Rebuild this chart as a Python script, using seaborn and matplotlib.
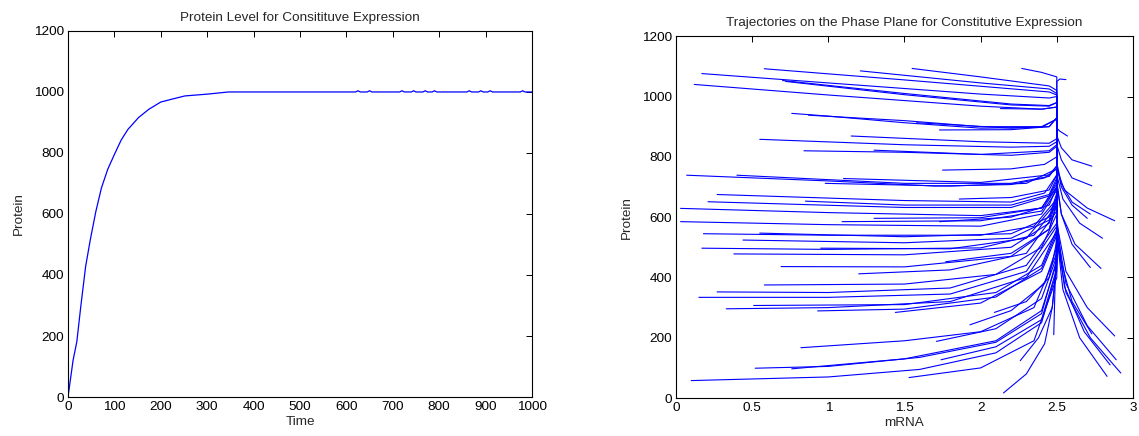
import numpy as np
import pandas as pd
import seaborn as sns
import matplotlib
matplotlib.use('Agg')
import matplotlib.pyplot as plt

# Left panel: protein level over time
time = [0, 11, 19, 27.5, 38, 48, 60, 72, 85.5, 100, 114.5, 129, 152, 174, 200,
        223, 252, 301, 346, 400, 500, 600, 620, 625, 630, 645, 650, 655, 715,
        720, 725, 740, 745, 750, 765, 770, 775, 785, 790, 795, 860, 865, 870,
        885, 890, 895, 905, 910, 915, 975, 980, 985, 1000]
protein = [0, 121, 181, 296, 428, 515, 608, 685, 746, 795, 842, 877, 916, 943,
           967, 976, 987, 993, 1000, 1000, 1000, 1000, 1000, 1004, 1000, 1000,
           1004, 1000, 1000, 1004, 1000, 1000, 1004, 1000, 1000, 1004, 1000,
           1000, 1004, 1000, 1000, 1004, 1000, 1000, 1004, 1000, 1000, 1004,
           1000, 1000, 1004, 1000, 1000]

# Right panel: phase plane trajectories (mRNA, protein), all head to the steady state
EQ_MRNA, EQ_PROTEIN = 2.5, 1000

upper_mrna = [
    [0.12, 1.0, 2.0, 2.4, 2.5],
    [0.17, 1.0, 2.0, 2.45, 2.5],
    [0.58, 1.5, 2.45, 2.5],
    [0.70, 1.5, 2.2, 2.45, 2.5],
    [0.72, 1.5, 2.2, 2.45, 2.5],
    [1.21, 2.0, 2.45, 2.5],
    [1.55, 2.0, 2.45, 2.5],
    [2.27, 2.4, 2.5, 2.5],
    [2.56, 2.52, 2.5],
    [2.13, 2.4, 2.5],
    [0.76, 1.0, 1.5, 2.0, 2.4, 2.5],
    [0.87, 1.5, 2.0, 2.4, 2.5],
    [1.73, 2.2, 2.45, 2.5],
    [1.58, 2.2, 2.45, 2.5],
]
upper_protein = [
    [1040, 1005, 968, 958, 965],
    [1076, 1045, 1008, 995, 1000],
    [1092, 1055, 1015, 1005],
    [1053, 1010, 975, 970, 980],
    [1050, 1006, 972, 968, 980],
    [1085, 1045, 1025, 1010],
    [1093, 1065, 1035, 1020],
    [1093, 1080, 1065, 1062],
    [1056, 1058, 1050],
    [960, 958, 965],
    [944, 935, 913, 895, 898, 925],
    [938, 920, 900, 900, 925],
    [889, 890, 900, 930],
    [913, 895, 900, 930],
]

middle_mrna = [
    [0.55, 1.5, 2.2, 2.45, 2.5],
    [1.15, 2.0, 2.45, 2.5],
    [0.84, 1.5, 2.2, 2.45, 2.5],
    [1.30, 2.0, 2.45, 2.5],
    [1.75, 2.2, 2.42, 2.5],
    [0.07, 1.0, 1.7, 2.2, 2.42, 2.5],
    [0.40, 1.5, 2.2, 2.45, 2.5],
    [1.10, 2.0, 2.45, 2.5],
    [0.98, 1.8, 2.3, 2.5],
    [0.27, 1.5, 2.2, 2.42, 2.5],
    [0.21, 1.5, 2.2, 2.45, 2.5],
    [0.85, 1.5, 2.2, 2.45, 2.5],
    [0.03, 1.0, 2.0, 2.4, 2.5],
    [1.86, 2.2, 2.45, 2.5],
    [0.03, 1.0, 2.0, 2.4, 2.5],
    [1.09, 2.0, 2.4, 2.5],
    [1.30, 2.0, 2.4, 2.5],
    [1.73, 2.2, 2.45, 2.5],
    [0.18, 1.0, 2.0, 2.35, 2.5],
    [0.55, 1.5, 2.2, 2.45, 2.5],
    [0.44, 1.5, 2.2, 2.45, 2.5],
    [0.17, 1.0, 2.0, 2.35, 2.5],
    [0.38, 1.5, 2.2, 2.45, 2.5],
    [0.95, 1.8, 2.3, 2.5],
    [0.69, 1.5, 2.2, 2.45, 2.5],
    [1.77, 2.2, 2.45, 2.5],
    [1.20, 1.8, 2.3, 2.5],
]
middle_protein = [
    [858, 840, 832, 835, 850],
    [869, 850, 845, 860],
    [820, 815, 805, 815, 835],
    [822, 808, 820, 840],
    [756, 760, 775, 800],
    [739, 720, 703, 708, 730, 760],
    [739, 712, 712, 735, 770],
    [728, 715, 740, 770],
    [712, 703, 712, 760],
    [675, 655, 650, 680, 740],
    [651, 632, 632, 670, 720],
    [653, 640, 640, 675, 730],
    [629, 615, 605, 630, 700],
    [660, 665, 690, 740],
    [585, 575, 570, 610, 690],
    [585, 588, 620, 700],
    [596, 598, 630, 710],
    [585, 600, 640, 700],
    [545, 540, 540, 570, 660],
    [547, 535, 545, 600, 680],
    [524, 515, 530, 590, 670],
    [497, 493, 498, 540, 640],
    [478, 475, 500, 580, 660],
    [497, 495, 530, 650],
    [436, 435, 470, 560, 650],
    [452, 480, 560, 640],
    [412, 425, 480, 620],
]

lower_mrna = [
    [0.58, 1.5, 2.1, 2.4, 2.5],
    [0.27, 1.0, 1.8, 2.3, 2.5],
    [0.15, 1.0, 1.8, 2.3, 2.5],
    [0.51, 1.5, 2.1, 2.4, 2.5],
    [0.33, 1.0, 1.8, 2.3, 2.5],
    [0.93, 1.5, 2.1, 2.4, 2.5],
    [1.44, 2.0, 2.4, 2.5],
    [2.09, 2.3, 2.45, 2.5],
    [1.93, 2.2, 2.42, 2.5],
    [0.82, 1.5, 2.0, 2.35, 2.5],
    [1.71, 2.1, 2.4, 2.5],
    [0.52, 1.0, 1.6, 2.1, 2.4, 2.5],
    [0.76, 1.5, 2.1, 2.4, 2.5],
    [1.74, 2.1, 2.4, 2.5],
    [0.10, 1.0, 1.6, 2.1, 2.4, 2.5],
    [1.53, 2.0, 2.35, 2.5],
    [2.26, 2.38, 2.47, 2.5],
    [2.15, 2.3, 2.42, 2.47, 2.5],
    [2.48, 2.49, 2.5],
]
lower_protein = [
    [375, 378, 410, 500, 610],
    [352, 350, 365, 440, 580],
    [334, 334, 345, 420, 570],
    [307, 310, 350, 440, 560],
    [296, 300, 320, 400, 550],
    [289, 295, 335, 430, 550],
    [284, 315, 420, 540],
    [284, 320, 400, 520],
    [243, 290, 380, 500],
    [167, 190, 220, 300, 480],
    [188, 230, 330, 470],
    [99, 105, 135, 185, 280, 460],
    [97, 130, 190, 290, 450],
    [127, 170, 260, 430],
    [58, 70, 95, 150, 250, 420],
    [68, 100, 190, 400],
    [124, 200, 300, 450],
    [17, 80, 180, 300, 450],
    [210, 400, 600],
]

right_mrna = [
    [2.57, 2.52, 2.5],
    [2.73, 2.6, 2.53, 2.5],
    [2.73, 2.6, 2.53, 2.5],
    [2.72, 2.6, 2.53, 2.5],
    [2.70, 2.6, 2.53, 2.5],
    [2.88, 2.7, 2.55, 2.5],
    [2.80, 2.65, 2.54, 2.5],
    [2.72, 2.6, 2.53, 2.5],
    [2.79, 2.62, 2.53, 2.5],
    [2.73, 2.6, 2.53, 2.5],
    [2.88, 2.7, 2.56, 2.5],
    [2.89, 2.7, 2.56, 2.5],
    [2.83, 2.65, 2.54, 2.5],
    [2.92, 2.72, 2.56, 2.5],
    [2.85, 2.68, 2.55, 2.5],
]
right_protein = [
    [869, 885, 895],
    [769, 790, 830, 870],
    [704, 730, 790, 840],
    [610, 650, 710, 780],
    [596, 640, 700, 770],
    [588, 630, 690, 760],
    [530, 580, 660, 740],
    [433, 510, 610, 720],
    [430, 510, 610, 710],
    [213, 320, 450, 600],
    [206, 300, 420, 580],
    [127, 240, 380, 560],
    [72, 200, 360, 540],
    [83, 200, 350, 530],
    [110, 220, 370, 550],
]

x_ticks_right = [0, 0.5, 1, 1.5, 2, 2.5, 3]
x_tick_labels_right = ["0", "0.5", "1", "1.5", "2", "2.5", "3"]

sns.set_style("white")
plt.rcParams['font.family'] = ['Liberation Sans', 'DejaVu Sans']
FS = 9.7

fig = plt.figure(figsize=(11.39, 4.36), dpi=100)
ax1 = fig.add_axes([0.0597, 0.0894, 0.4073, 0.8396])
ax2 = fig.add_axes([0.5935, 0.087, 0.4012, 0.830])

# left: time course
sns.lineplot(x=time, y=protein, color="#0000ff", lw=0.9, ax=ax1)
ax1.set(xlim=(0, 1000), ylim=(0, 1200), xlabel="Time", ylabel="Protein")
ax1.set_xticks(range(0, 1001, 100))
ax1.set_yticks(range(0, 1201, 200))
ax1.set_title("Protein Level for Consitituve Expression", fontsize=FS, pad=7)

# right: phase plane
rows = []
traj_id = 0
for xs_group, ys_group in [(upper_mrna, upper_protein), (middle_mrna, middle_protein),
                           (lower_mrna, lower_protein), (right_mrna, right_protein)]:
    for xs, ys in zip(xs_group, ys_group):
        xs = list(xs) + [EQ_MRNA]
        ys = list(ys) + [EQ_PROTEIN]
        for k, (xv, yv) in enumerate(zip(xs, ys)):
            rows.append({"traj": traj_id, "step": k, "mrna": xv, "protein": yv})
        traj_id += 1
df = pd.DataFrame(rows)

sns.lineplot(data=df, x="mrna", y="protein", units="traj", estimator=None,
             sort=False, color="#0000ff", lw=0.8, ax=ax2,
             solid_joinstyle="round")
ax2.set(xlim=(0, 3), ylim=(0, 1200), xlabel="mRNA", ylabel="Protein")
ax2.set_xticks(x_ticks_right)
ax2.set_xticklabels(x_tick_labels_right)
ax2.set_yticks(range(0, 1201, 200))
ax2.set_title("Trajectories on the Phase Plane for Constitutive Expression",
              fontsize=FS, pad=7)

for ax in (ax1, ax2):
    ax.tick_params(direction="in", top=True, right=True, length=4, width=0.7,
                   labelsize=FS, colors="black", pad=3)
    ax.xaxis.label.set_size(FS)
    ax.yaxis.label.set_size(FS)
    ax.xaxis.labelpad = 2
    ax.yaxis.labelpad = 6
    for sp in ax.spines.values():
        sp.set_color("black")
        sp.set_linewidth(0.8)

fig.savefig("out.png", dpi=100)
